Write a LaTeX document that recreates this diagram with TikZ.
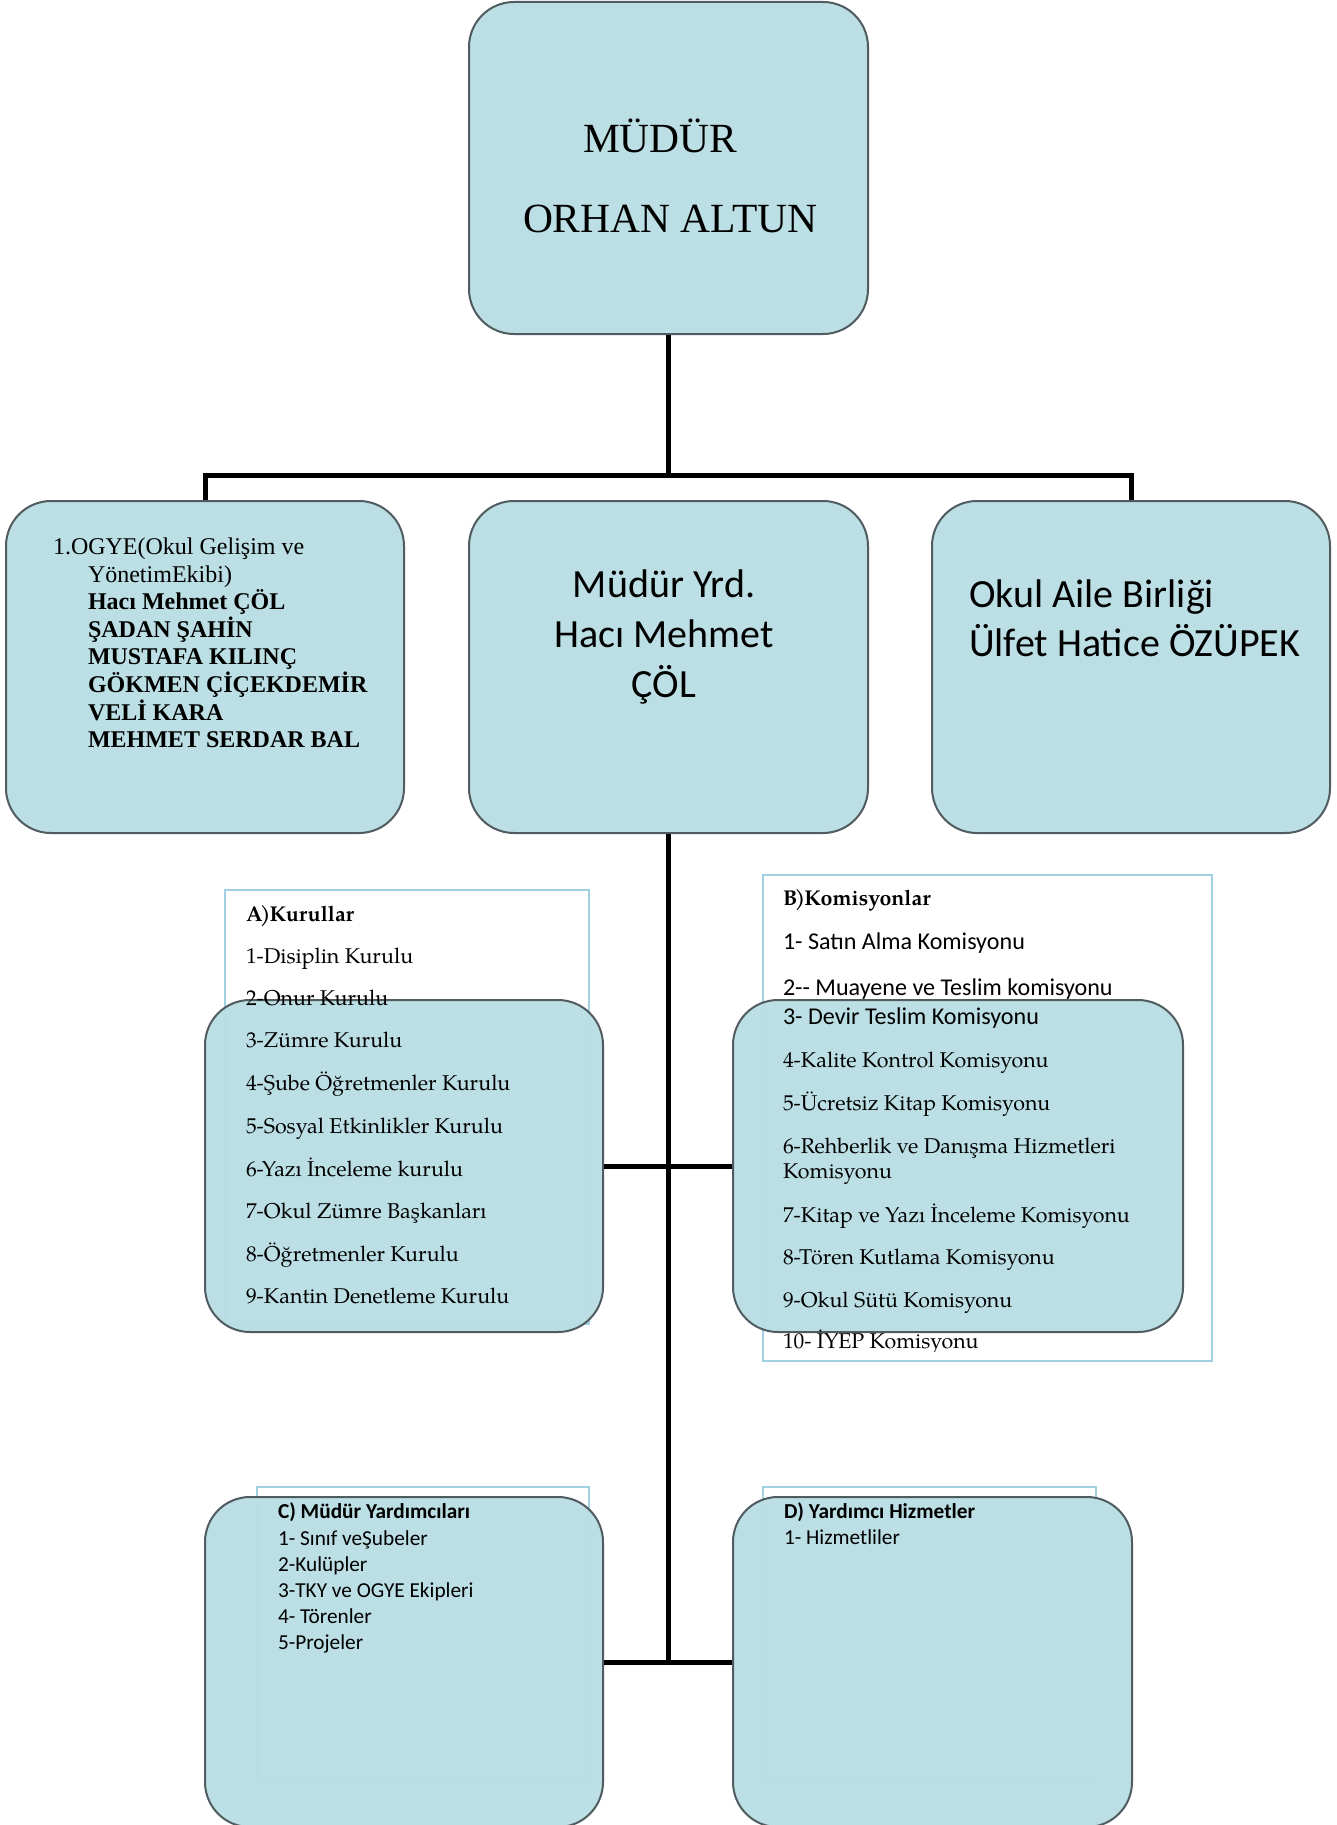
\documentclass[tikz,border=0pt]{standalone}
\usepackage{fontspec}
\setmainfont{Liberation Serif}
\newfontfamily\calfont{Carlito}
\newfontfamily\palfont{texgyrepagella}[Extension=.otf,UprightFont=*-regular,BoldFont=*-bold]
\definecolor{boxfill}{RGB}{185,222,227}
\definecolor{boxline}{RGB}{80,92,96}
\definecolor{frameline}{RGB}{160,208,225}
\begin{document}
\begin{tikzpicture}[x=1pt,y=-1pt,
  orgbox/.style={draw=boxline, line width=2pt, fill=boxfill, fill opacity=0.96, draw opacity=1,
    rounded corners=45pt, inner sep=0pt, rectangle},
  conn/.style={draw=black, line width=5pt},
  frm/.style={draw=frameline, line width=1.5pt},
  txt/.style={inner sep=0pt, outer sep=0pt, anchor=base west, text opacity=1},
  tnr/.style={txt, font=\fontsize{24}{28}\selectfont},
  tnrb/.style={txt, font=\bfseries\fontsize{24}{28}\selectfont},
  palt/.style={txt, font=\palfont\fontsize{21.4}{25}\selectfont},
  palb/.style={txt, font=\palfont\bfseries\fontsize{21.4}{25}\selectfont},
  calt/.style={txt, font=\calfont\fontsize{24.1}{28}\selectfont},
  cals/.style={txt, font=\calfont\fontsize{21.3}{26}\selectfont},
  calsb/.style={txt, font=\calfont\bfseries\fontsize{21.3}{26}\selectfont},
  calb/.style={txt, font=\calfont\fontsize{40}{50}\selectfont}]
\useasboundingbox (0,0) rectangle (1337,1825);
\clip (0,0) rectangle (1337,1825);
\fill[white] (0,0) rectangle (1337,1825);

% text frames
\draw[frm] (225,890) rectangle (589,1324);
\draw[frm] (763,875) rectangle (1212,1361);
\draw[frm] (257,1487) rectangle (589,1779);
\draw[frm] (763,1487) rectangle (1096,1779);

% boxes
\node[orgbox, minimum width=399pt, minimum height=332pt] (mudur) at (668.5,168) {};
\node[orgbox, minimum width=398pt, minimum height=332pt] (ogye) at (205,667) {};
\node[orgbox, minimum width=399pt, minimum height=332pt] (yrd) at (668.5,667) {};
\node[orgbox, minimum width=398pt, minimum height=332pt] (oab) at (1131,667) {};
\node[orgbox, minimum width=398pt, minimum height=332pt] (kur) at (404,1166) {};
\node[orgbox, minimum width=450pt, minimum height=332pt] (kom) at (958,1166) {};
\node[orgbox, minimum width=398pt, minimum height=330pt] (cbox) at (404,1662) {};
\node[orgbox, minimum width=399pt, minimum height=330pt] (dbox) at (932.5,1662) {};

% connectors
\coordinate (bar) at (668.5,475);
\draw[conn] (mudur.south) -- (bar);
\draw[conn] (ogye.north) -- (ogye.north |- bar) -- (oab.north |- bar) -- (oab.north);
\draw[conn] (yrd.south) -- (yrd.south |- cbox.east);
\draw[conn] (kur.east) -- (kom.west);
\draw[conn] (cbox.east) -- (dbox.west);

% top box
\node[txt, font=\fontsize{41.5}{49}\selectfont] (m1) at (583,152) {MÜDÜR};
\node[txt, font=\fontsize{41.5}{49}\selectfont] (m2) at (523,232) {ORHAN ALTUN};

% OGYE
\node[tnr] (o1) at (53,554) {1.OGYE(Okul Gelişim ve};
\node[tnr] (o2) at (88,582) {YönetimEkibi)};
\node[tnrb] (o3) at (88,609) {Hacı Mehmet ÇÖL};
\node[tnrb] (o4) at (88,637) {ŞADAN ŞAHİN};
\node[tnrb] (o5) at (88,664) {MUSTAFA KILINÇ};
\node[tnrb] (o6) at (88,692) {GÖKMEN ÇİÇEKDEMİR};
\node[tnrb] (o7) at (88,720) {VELİ KARA};
\node[tnrb] (o8) at (88,747) {MEHMET SERDAR BAL};

% Mudur yrd
\node[calb, anchor=base] (y1) at (664,597) {Müdür Yrd.};
\node[calb, anchor=base] (y2) at (664,647) {Hacı Mehmet};
\node[calb, anchor=base] (y3) at (664,697) {ÇÖL};

% Okul Aile Birligi
\node[calb] (a1) at (969,607) {Okul Aile Birliği};
\node[calb] (a2) at (969,656) {Ülfet Hatice ÖZÜPEK};

% Kurullar
\node[palb] (k0) at (246,921) {A\kern-2.5pt)\kern-1pt Kurullar};
\node[palt] (k1) at (246,963) {1-Disiplin Kurulu};
\node[palt] (k2) at (246,1005) {2-Onur Kurulu};
\node[palt] (k3) at (246,1047) {3-Zümre Kurulu};
\node[palt] (k4) at (246,1090) {4-Şube Öğretmenler Kurulu};
\node[palt] (k5) at (246,1133) {5-Sosyal Etkinlikler Kurulu};
\node[palt] (k6) at (246,1176) {6-Yazı İnceleme kurulu};
\node[palt] (k7) at (246,1218) {7-Okul Zümre Başkanları};
\node[palt] (k8) at (246,1261) {8-Öğretmenler Kurulu};
\node[palt] (k9) at (246,1303) {9-Kantin Denetleme Kurulu};

% Komisyonlar
\begin{scope}
\clip (763,875) rectangle (1212,1351);
\node[palb] (c0) at (783,905) {B\kern-2.5pt)\kern-1pt Komisyonlar};
\node[calt] (c1) at (783,949) {1- Satın Alma Komisyonu};
\node[calt] (c2) at (783,995) {2-- Muayene ve Teslim komisyonu};
\node[calt] (c3) at (783,1024) {3- Devir Teslim Komisyonu};
\node[palt] (c4) at (783,1067) {4-Kalite Kontrol Komisyonu};
\node[palt] (c5) at (783,1110) {5-Ücretsiz Kitap Komisyonu};
\node[palt] (c6) at (783,1153) {6-Rehberlik ve Danışma Hizmetleri};
\node[palt] (c6b) at (783,1178) {Komisyonu};
\node[palt] (c7) at (783,1222) {7-Kitap ve Yazı İnceleme Komisyonu};
\node[palt] (c8) at (783,1264) {8-Tören Kutlama Komisyonu};
\node[palt] (c9) at (783,1307) {9-Okul Sütü Komisyonu};
\node[palt] (c10) at (783,1348) {10- İYEP Komisyonu};
\end{scope}

% C
\node[calsb] (d0) at (278,1518) {C) Müdür Yardımcıları};
\node[cals] (d1) at (278,1545) {1- Sınıf veŞubeler};
\node[cals] (d2) at (278,1571) {2-Kulüpler};
\node[cals] (d3) at (278,1597) {3-TKY ve OGYE Ekipleri};
\node[cals] (d4) at (278,1623) {4- Törenler};
\node[cals] (d5) at (278,1649) {5-Projeler};

% D
\node[calsb] (e0) at (784,1518) {D) Yardımcı Hizmetler};
\node[cals] (e1) at (784,1544) {1- Hizmetliler};
\end{tikzpicture}
\end{document}
